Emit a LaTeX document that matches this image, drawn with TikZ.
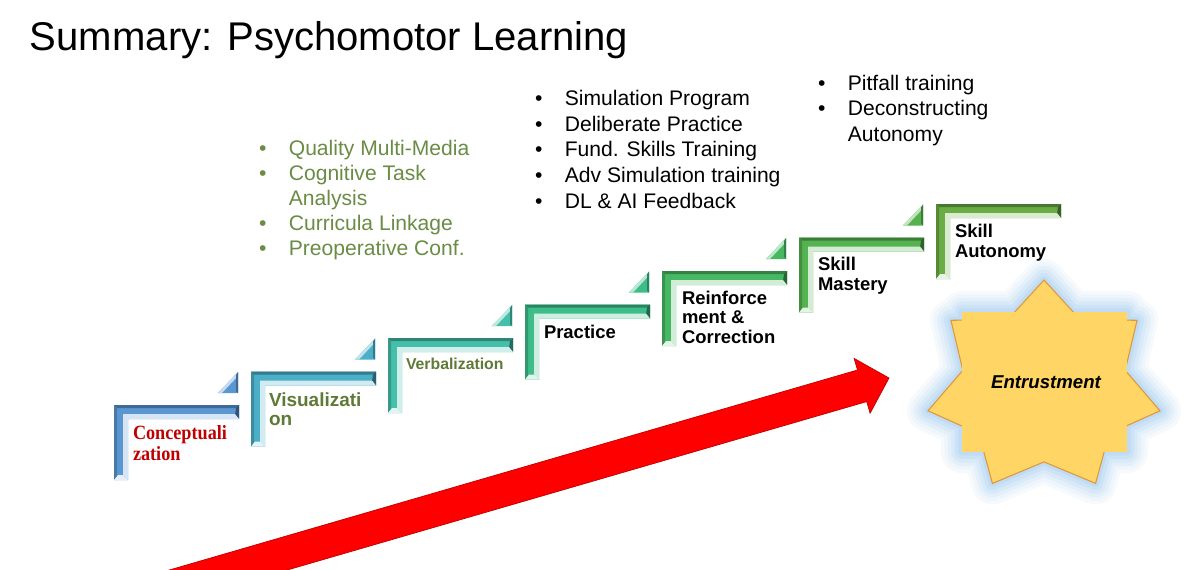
\documentclass[tikz,border=0pt]{standalone}
\usepackage{fontspec}
\setmainfont{Liberation Sans}
\newfontfamily\narrowserif[FakeStretch=0.9]{Liberation Serif}
\usetikzlibrary{calc}
\definecolor{stepA}{HTML}{5A97D2}
\definecolor{stepB}{HTML}{4BAFC8}
\definecolor{stepC}{HTML}{45BFA9}
\definecolor{stepD}{HTML}{3EBD8A}
\definecolor{stepE}{HTML}{47B862}
\definecolor{stepF}{HTML}{55B34F}
\definecolor{stepG}{HTML}{69AD44}
\definecolor{olivetext}{HTML}{5F7A37}
\definecolor{olivelist}{HTML}{6B8C45}
\definecolor{conceptred}{HTML}{C00000}
\definecolor{arrowred}{HTML}{FF0000}
\definecolor{stargold}{HTML}{FFD566}
\definecolor{staredge}{HTML}{E0963A}
\definecolor{glowblue}{HTML}{9FCAF2}
\newcommand\bitem{\makebox[17pt][l]{•}}
\newcommand\bgap{\makebox[17pt]{}}
\newcommand\entrustpath{(90:119 and 107) -- (64.29:83.3 and 74.9) -- (38.57:119 and 107) -- (12.86:83.3 and 74.9) -- (-12.86:119 and 107) -- (-38.57:83.3 and 74.9) -- (-64.29:119 and 107) -- (-90:83.3 and 74.9) -- (-115.71:119 and 107) -- (-141.43:83.3 and 74.9) -- (-167.14:119 and 107) -- (167.14:83.3 and 74.9) -- (141.43:119 and 107) -- (115.71:83.3 and 74.9) -- cycle}

\begin{document}
\begin{tikzpicture}[x=0.02cm, y=-0.02cm,
  every node/.style={inner sep=0pt, outer sep=0pt, anchor=base west, align=left},
  steplabel/.style={font=\bfseries\fontsize{10.5}{11}\selectfont},
  bulletlist/.style={font=\fontsize{12}{14.4}\selectfont},
  pics/stairstep/.style={code={
    \fill[#1] (0,0) -- (125,0) -- (125,14) -- (14,14) -- (14,75) -- (0,75) -- cycle;
    \fill[#1!70!black] (0,0) -- (125,0) -- (122,3) -- (3,3) -- cycle;
    \fill[#1!80!black] (0,0) -- (3,3) -- (3,72) -- (0,75) -- cycle;
    \fill[#1!55!black] (125,0) -- (125,14) -- (121,10) -- (122,3) -- cycle;
    \fill[#1!25!white] (9,9) -- (121,9) -- (125,14) -- (14,14) -- (14,75) -- (9,70) -- cycle;
    \fill[#1!15!white] (0,75) -- (4,70) -- (9,70) -- (14,75) -- cycle;
  }},
  pics/stairtip/.style={code={
    \fill[#1] (0,21) -- (20,21) -- (20,0) -- cycle;
    \fill[#1!35!white] (0,21) -- (20,0) -- (20,4) -- (4,21) -- cycle;
    \fill[#1!70!black] (20,0) -- (20,21) -- (18,19) -- (18,3) -- cycle;
  }},
]
\fill[white] (0,0) rectangle (1200,569);
\useasboundingbox (0,0) rectangle (1200,569);

% title
\node[font=\fontsize{22.8}{27}\selectfont] (title) at (30,50) {Summary: Psychomotor Learning};

% red arrow
\begin{scope}
\clip (0,0) rectangle (1200,569);
\fill[arrowred, draw=arrowred!75!black, line width=0.4pt] (98.7,624.8) -- (866.7,401.6) -- (870.1,413.2) -- (889,378) -- (854.1,358.4) -- (857.5,370.0) -- (89.5,593.2) -- cycle;
\end{scope}

% stairs
\pic (s1) at (114,405) {stairstep=stepA}; \pic (t1) at (218,372) {stairtip=stepA};
\pic (s2) at (251,371.5) {stairstep=stepB}; \pic (t2) at (355,338.5) {stairtip=stepB};
\pic (s3) at (388,338) {stairstep=stepC}; \pic (t3) at (492,305) {stairtip=stepC};
\pic (s4) at (525,304.5) {stairstep=stepD}; \pic (t4) at (629,271.5) {stairtip=stepD};
\pic (s5) at (662,271) {stairstep=stepE}; \pic (t5) at (766,238) {stairtip=stepE};
\pic (s6) at (799,237.5) {stairstep=stepF}; \pic (t6) at (903,204.5) {stairtip=stepF};
\pic (s7) at (936,204) {stairstep=stepG};

% step labels (y = baseline of last line)
\node[font=\narrowserif\bfseries\fontsize{11.5}{10.2}\selectfont, text=conceptred] (concept) at (133,460) {Conceptuali\\zation};
\node[steplabel, font=\bfseries\fontsize{10.8}{10.8}\selectfont, text=olivetext] (visual) at (269,425) {Visualizati\\on};
\node[steplabel, font=\bfseries\fontsize{9}{10}\selectfont, text=olivetext] (verbal) at (406,369) {Verbalization};
\node[steplabel] (practice) at (544,338) {Practice};
\node[steplabel] (reinforce) at (682,343) {Reinforce\\ment \&\\Correction};
\node[steplabel] (mastery) at (818,290) {Skill\\Mastery};
\node[steplabel, font=\bfseries\fontsize{10.5}{11.3}\selectfont] (autonomy) at (955,257) {Skill\\Autonomy};

% bullet lists
\node[bulletlist, text=olivelist, font=\fontsize{12}{14.2}\selectfont] (multimedia) at (259,255) {\bitem Quality Multi-Media\\\bitem Cognitive Task\\\bgap Analysis\\\bitem Curricula Linkage\\\bitem Preoperative Conf.};
\node[bulletlist, font=\fontsize{12}{14.6}\selectfont] (simulation) at (535,208) {\bitem Simulation Program\\\bitem Deliberate Practice\\\bitem Fund. Skills Training\\\bitem Adv Simulation training\\\bitem DL \& AI Feedback};
\node[bulletlist] (pitfall) at (818,141) {\bitem Pitfall training\\\bitem Deconstructing\\\bgap Autonomy};

% entrustment star
\begin{scope}[shift={(1044,387)}, yscale=-1]
\foreach \w/\o in {24/0.08, 20/0.1, 16/0.13, 12/0.16, 8/0.2, 4/0.25}
  \draw[glowblue, opacity=\o, line width=\w pt, line join=round] \entrustpath (-82,-65) rectangle (83,75);
\filldraw[fill=stargold, draw=staredge, line width=0.6pt] \entrustpath;
\fill[stargold] (-82,-65) rectangle (83,75);
\end{scope}
\node[anchor=base, font=\bfseries\itshape\fontsize{10.6}{12}\selectfont] (entrust) at (1046,388) {Entrustment};
\end{tikzpicture}
\end{document}
